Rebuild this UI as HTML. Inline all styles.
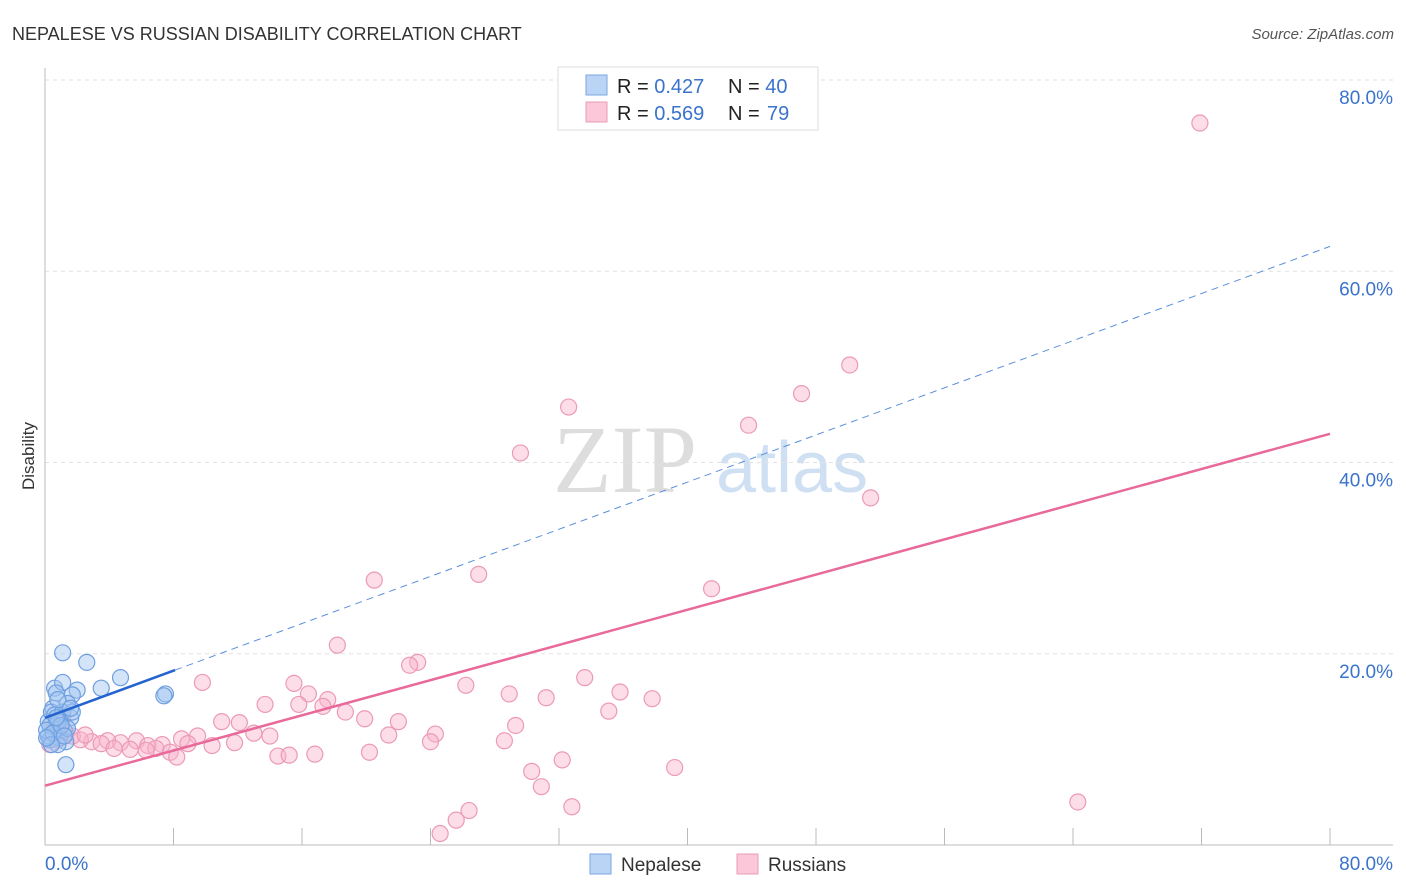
<!DOCTYPE html>
<html><head><meta charset="utf-8"><style>
body{margin:0;background:#fff;font-family:"Liberation Sans",sans-serif}
svg{display:block}
</style></head><body>
<svg id="chart" width="1406" height="892" xmlns="http://www.w3.org/2000/svg">
<text x="12" y="40" font-size="18" fill="#333">NEPALESE VS RUSSIAN DISABILITY CORRELATION CHART</text>
<text x="1394" y="39" font-size="15" fill="#555" font-style="italic" text-anchor="end">Source: ZipAtlas.com</text>
<g>
<text x="553" y="492" font-family="Liberation Serif,serif" font-size="96" fill="#ddd">ZIP</text>
<text x="716" y="492" font-size="72" fill="#cfe0f3">atlas</text>
</g>
<g id="grid"></g>
<g id="axes"></g>
<g id="pinkPts"></g>
<g id="bluePts"></g>
<g id="lines"></g>
<text transform="translate(34,456) rotate(-90)" font-size="17" fill="#333" text-anchor="middle">Disability</text>
<g>
<rect x="558" y="67" width="260" height="63" fill="#fff" stroke="#ddd"/>
<rect x="586" y="75" width="21" height="20" fill="#b9d4f5" stroke="#7aa6e0"/>
<rect x="586" y="102" width="21" height="20" fill="#fac8d8" stroke="#eb9ab5"/>
<text x="617" y="93" font-size="20" fill="#222">R = <tspan fill="#3a73cc">0.427</tspan><tspan x="728">N = </tspan><tspan fill="#3a73cc">40</tspan></text>
<text x="617" y="120" font-size="20" fill="#222">R = <tspan fill="#3a73cc">0.569</tspan><tspan x="728">N = </tspan><tspan fill="#3a73cc" x="767">79</tspan></text>
</g>
<g>
<rect x="590" y="854" width="21" height="20" fill="#b9d4f5" stroke="#7aa6e0"/>
<text x="621" y="871" font-size="19" fill="#333">Nepalese</text>
<rect x="737" y="854" width="21" height="20" fill="#fac8d8" stroke="#eb9ab5"/>
<text x="768" y="871" font-size="19" fill="#333">Russians</text>
</g>
</svg>
<script>
const yTicks=[20,40,60,80];
const yTickLabels=["20.0%","40.0%","60.0%","80.0%"];
const xTicks=[0,8,16,24,32,40,48,56,64,72,80];
const blueX=[1.1,2.6,4.7,0.6,3.5,1.1,2.0,7.5,1.7,0.7,1.4,0.5,1.6,0.9,0.2,0.4,0.7,1.2,0.2,0.3,0.9,1.3,0.8,1.3,0.6,1.1,0.3,0.8,1.4,0.1,0.5,1.0,0.7,1.7,1.2,0.4,0.1,0.8,1.6,7.4];
const blueY=[20.1,19.1,17.5,16.4,16.4,17.0,16.2,15.8,15.7,15.9,14.8,14.3,13.3,13.1,12.9,13.9,12.2,12.0,11.4,11.0,11.2,10.8,10.5,8.4,13.6,13.9,12.5,12.9,12.2,12.0,11.7,12.5,13.3,13.9,11.4,10.5,11.2,15.2,14.3,15.6];
const pinkX=[71.9,50.1,47.1,32.6,43.8,29.6,51.4,20.5,27.0,41.5,18.2,23.2,22.7,9.8,15.5,26.2,33.6,35.8,28.9,31.2,37.8,16.4,17.6,13.7,15.8,17.3,18.7,35.1,19.9,11.0,12.1,22.0,29.3,24.3,21.4,14.0,13.0,9.5,8.5,7.3,5.7,4.7,3.9,2.9,2.2,1.7,1.3,3.5,4.3,5.3,6.4,6.9,7.8,8.2,10.4,11.8,14.5,15.2,16.8,20.2,24.0,28.6,30.3,32.2,30.9,39.2,32.8,64.3,26.4,25.6,24.6,8.9,6.3,0.9,0.6,1.1,0.3,0.8,2.5];
const pinkY=[75.5,50.2,47.2,45.8,43.9,41.0,36.3,27.7,28.3,26.8,20.9,19.1,18.8,17.0,16.9,16.7,17.5,16.0,15.8,15.4,15.3,15.8,15.2,14.7,14.7,14.5,13.9,14.0,13.2,12.9,12.8,12.9,12.5,11.6,11.5,11.4,11.7,11.4,11.1,10.5,10.9,10.7,10.9,10.8,11.0,11.4,11.7,10.6,10.1,10.0,10.4,10.1,9.7,9.2,10.4,10.7,9.3,9.4,9.5,9.7,10.8,10.9,7.7,8.9,6.1,8.1,4.0,4.5,3.6,2.6,1.2,10.6,9.9,12.0,12.5,13.3,10.5,11.0,11.5];
const blueTrend=[13.3,62.6]; // y at x=0 and x=80
const blueSolidEnd=8.1;
const pinkTrend=[6.2,43.0];
const NS='http://www.w3.org/2000/svg';
const X0=45,X1=1330,Y0=845,Y1=80;
const sx=v=>X0+(v/80)*(X1-X0);
const sy=v=>Y0-(v/80)*(Y0-Y1);
function mk(t,p,a){const e=document.createElementNS(NS,t);for(const k in a)e.setAttribute(k,a[k]);p.appendChild(e);return e;}
const grid=document.getElementById('grid'),axes=document.getElementById('axes');
yTicks.forEach((v,i)=>{
  const l=mk('line',grid,{x1:X0,x2:1393,y1:sy(v),y2:sy(v),stroke:'#e2e2e2','stroke-dasharray':'4,4'});
  
  
  const t=mk('text',grid,{x:1393,y:sy(v)+24,'font-size':19,fill:'#3a73cc','text-anchor':'end'});
  t.textContent=yTickLabels[i];
  
  
});
let a=mk('line',axes,{x1:X0,x2:X0,y1:68,y2:Y0,stroke:'#bbb'});


a=mk('line',axes,{x1:X0,x2:1393,y1:Y0,y2:Y0,stroke:'#bbb'});


xTicks.forEach(v=>{
  const l=mk('line',axes,{x1:sx(v),x2:sx(v),y1:828,y2:Y0,stroke:'#bbb'});
  
  
});
let t=mk('text',axes,{x:45,y:870,'font-size':19,fill:'#3a73cc'});t.textContent='0.0%';


t=mk('text',axes,{x:1393,y:870,'font-size':19,fill:'#3a73cc','text-anchor':'end'});t.textContent='80.0%';


const pg=document.getElementById('pinkPts');
pinkX.forEach((v,i)=>{
  const c=mk('circle',pg,{cx:sx(v),cy:sy(pinkY[i]),r:8,fill:'rgba(248,180,203,0.45)',stroke:'#ec9ab6','stroke-width':1.2});
  
  
});
const bg=document.getElementById('bluePts');
blueX.forEach((v,i)=>{
  const c=mk('circle',bg,{cx:sx(v),cy:sy(blueY[i]),r:8,fill:'rgba(160,195,240,0.45)',stroke:'#6e9fe0','stroke-width':1.2});
  
  
});
const lg=document.getElementById('lines');
const bAt=x=>blueTrend[0]+(blueTrend[1]-blueTrend[0])*x/80;
let l=mk('line',lg,{x1:sx(blueSolidEnd),y1:sy(bAt(blueSolidEnd)),x2:sx(80),y2:sy(blueTrend[1]),stroke:'#5a8fdc','stroke-width':1,'stroke-dasharray':'7,5'});


l=mk('line',lg,{x1:sx(0),y1:sy(blueTrend[0]),x2:sx(blueSolidEnd),y2:sy(bAt(blueSolidEnd)),stroke:'#2563d0','stroke-width':2.5});


l=mk('line',lg,{x1:sx(0),y1:sy(pinkTrend[0]),x2:sx(80),y2:sy(pinkTrend[1]),stroke:'#e8699a','stroke-width':2.5});


</script>
</body></html>
